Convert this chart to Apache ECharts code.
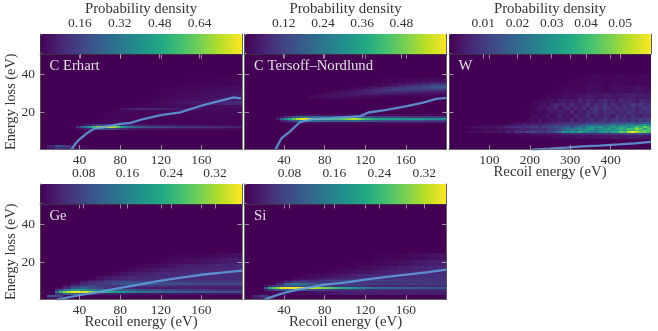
<!DOCTYPE html>
<html><head><meta charset="utf-8">
<style>html,body{margin:0;padding:0;background:#fff}#c{width:658px;height:331px}</style>
<script src="https://cdn.jsdelivr.net/npm/echarts@6/dist/echarts.min.js"></script>
</head><body><div id="c"></div>
<script>
// ---------- data ----------
const recoilEdges = [0,8,16,24,32,40,48,56,64,72,80,88,96,104,112,120,128,136,144,152,160,168,176,184,192,200];
const recoilEdgesFine = [0,4,8,12,16,20,24,28,32,36,40,44,48,52,56,60,64,68,72,76,80,84,88,92,96,100,104,108,112,116,120,124,128,132,136,140,144,148,152,156,160,164,168,172,176,180,184,188,192,196,200];
const recoilEdgesW = [40,60,80,100,120,140,160,180,200,220,240,260,280,300,320,340,360,380,400,420,440,460,480,500];
const recoilEdgesWFine = [40,50,60,70,80,90,100,110,120,130,140,150,160,170,180,190,200,210,220,230,240,250,260,270,280,290,300,310,320,330,340,350,360,370,380,390,400,410,420,430,440,450,460,470,480,490,500];

// each row: [loss low, loss high, density per recoil column]
const erhartRows = [
 [1,2,[0,.05,.12,.10,.02,.02,.01,0,0,0,0,0,0,0,0,0,0,0,0,0,0,0,0,0,0]],
 [2,3,[0,.08,.20,.13,.03,.02,.01,0,0,0,0,0,0,0,0,0,0,0,0,0,0,0,0,0,0]],
 [11,12,[0,0,0,0,0,0,0,0,.005,.03,
         .05,.08,.10,.14,.18,.2,.2,.2,.16,.13,
         .1,.08,.07,.06,.05,.05,.05,.04,.04,.04,
         .04,.04,.03,.03,.03,.03,.03,.03,.03,.03,
         .03,.03,.03,.03,.03,.03,.02,.02,.02,.02]],
 [12,13,[0,0,0,0,0,0,0,0,.02,.12,
         .22,.32,.42,.55,.68,.76,.80,.78,.70,.60,
         .48,.38,.30,.27,.24,.22,.19,.18,.17,.16,
         .16,.15,.14,.14,.13,.13,.13,.12,.12,.11,
         .11,.11,.10,.10,.09,.09,.08,.08,.07,.07]],
 [13,14,[0,0,0,0,0,0,0,0,0,.01,
         .03,.06,.08,.11,.15,.18,.18,.17,.14,.12,
         .10,.08,.07,.06,.06,.05,.05,.04,.04,.04,
         .04,.03,.03,.03,.03,.03,.03,.03,.03,.03,
         .03,.03,.02,.02,.02,.02,.02,.02,.02,.02]],
 [14,16,[0,0,0,0,0,.005,.01,.015,.02,.02,.015,.01,.01,.01,.01,.01,.01,.01,.01,.01,.01,.01,.01,.01,.01]],
 [16,18,[0,0,0,0,0,0,0,.005,.01,.015,.015,.01,.01,.01,.01,.01,.01,.01,.01,.01,.01,.01,.01,.01,.01]],
 [18,20,[0,0,0,0,0,0,0,0,.005,.01,.01,.01,.01,.015,.015,.015,.015,.015,.015,.015,.015,.015,.015,.015,.015]],
 [20,21,[0,0,0,0,0,0,0,0,0,.005,.015,.02,.02,.02,.02,.02,.02,.02,.02,.02,.02,.02,.02,.02,.02]],
 [21,22,[0,0,0,0,0,0,0,0,0,.01,.04,.07,.08,.08,.08,.07,.06,.06,.05,.04,.03,.025,.02,.02,.02]],
 [22,24,[0,0,0,0,0,0,0,0,0,0,.005,.01,.015,.015,.02,.02,.02,.025,.025,.03,.03,.03,.03,.03,.03]],
 [24,26,[0,0,0,0,0,0,0,0,0,0,0,0,.005,.01,.015,.02,.03,.04,.05,.06,.06,.07,.08,.09,.10]],
 [26,28,[0,0,0,0,0,0,0,0,0,0,0,0,0,.005,.01,.015,.02,.025,.03,.03,.035,.04,.04,.05,.06]],
 [28,31,[0,0,0,0,0,0,0,0,0,0,0,0,0,0,.005,.01,.015,.02,.02,.025,.03,.03,.035,.04,.05]],
 [31,34,[0,0,0,0,0,0,0,0,0,0,0,0,0,0,0,.005,.01,.01,.015,.015,.02,.02,.025,.03,.03]],
 [34,38,[0,0,0,0,0,0,0,0,0,0,0,0,0,0,0,0,0,0,.005,.005,.005,.01,.01,.01,.015]]
];
const tersoffRows = [
 [14,15,[0,0,0,0,0,.02,.03,.03,.03,.03,.02,.02,.02,.02,.02,.02,.02,.02,.02,.02,.02,.02,.02,.02,.02]],
 [15,16,[0,0,0,0,0,0,0,0,.01,.05,
         .08,.12,.16,.2,.23,.24,.23,.22,.21,.2,
         .19,.18,.18,.18,.18,.19,.2,.21,.2,.18,
         .16,.15,.14,.14,.14,.13,.13,.13,.13,.13,
         .13,.13,.13,.13,.13,.12,.12,.12,.12,.12]],
 [16,17,[0,0,0,0,0,0,0,0,.06,.20,
         .30,.38,.46,.54,.60,.61,.60,.56,.52,.48,
         .45,.44,.44,.45,.47,.50,.53,.55,.52,.46,
         .42,.40,.38,.36,.35,.35,.34,.34,.33,.33,
         .33,.32,.34,.33,.31,.31,.30,.30,.30,.29]],
 [17,18,[0,0,0,0,0,0,0,0,.01,.04,
         .07,.1,.14,.18,.21,.23,.22,.21,.2,.19,
         .18,.18,.19,.2,.2,.21,.21,.2,.18,.16,
         .14,.13,.12,.12,.12,.11,.11,.11,.11,.11,
         .1,.1,.1,.1,.1,.1,.1,.1,.1,.1]],
 [18,19,[0,0,0,0,0,.01,.02,.03,.03,.03,.03,.03,.03,.03,.02,.02,.02,.02,.02,.02,.02,.02,.02,.02,.02]],
 [27,28,[0,0,0,0,0,0,0,0,.01,.015,.02,.02,.015,.01,.01,.005,.005,0,0,0,0,0,0,0,0]],
 [28,29,[0,0,0,0,0,0,0,0,.015,.025,.03,.03,.03,.03,.025,.02,.02,.015,.01,.01,.01,.01,.01,.005,.005]],
 [29,30,[0,0,0,0,0,0,0,0,0,.01,.02,.03,.04,.04,.05,.05,.045,.04,.04,.03,.03,.03,.025,.02,.02]],
 [30,31,[0,0,0,0,0,0,0,0,0,0,.005,.02,.03,.04,.05,.06,.07,.07,.07,.07,.06,.06,.05,.05,.05]],
 [31,32,[0,0,0,0,0,0,0,0,0,0,0,0,.01,.02,.04,.05,.07,.09,.10,.10,.10,.10,.10,.09,.09]],
 [32,33,[0,0,0,0,0,0,0,0,0,0,0,0,0,.01,.015,.03,.05,.07,.09,.10,.11,.12,.13,.14,.15]],
 [33,34,[0,0,0,0,0,0,0,0,0,0,0,0,0,0,.01,.015,.02,.03,.05,.07,.09,.11,.14,.17,.18]],
 [34,35,[0,0,0,0,0,0,0,0,0,0,0,0,0,0,0,.005,.01,.02,.03,.05,.06,.07,.09,.11,.12]],
 [35,36,[0,0,0,0,0,0,0,0,0,0,0,0,0,0,0,0,.005,.01,.015,.02,.03,.04,.05,.06,.06]],
 [36,38,[0,0,0,0,0,0,0,0,0,0,0,0,0,0,0,0,0,.005,.005,.01,.01,.015,.02,.02,.025]]
];
const tungstenRows = [
 [6,8,[0,0,0,0,0,0,0,.0005,.001,.001,.001,.002,.002,.002,.003,.002,.003,.003,.004,.003,.004,.004,.003]],
 [8,9,[0,0,0,0,0,.001,.002,.002,.003,.003,.004,.004,.006,.007,.006,.008,.008,.009,.010,.011,.012,.012,.011]],
 [9,10,[.001,.002,.003,.002,.002,.003,.003,.004,.004,.003,
        .006,.004,.009,.010,.008,.012,.011,.012,.010,.009,
        .012,.013,.016,.020,.030,.026,.034,.028,.036,.030,
        .028,.024,.022,.030,.032,.028,.036,.034,.044,.042,
        .052,.058,.052,.046,.044,.040]],
 [10,11,[0,0,0,.001,0,.001,.001,.001,.002,.002,
         .003,.003,.004,.005,.004,.006,.007,.006,.006,.007,
         .009,.008,.012,.016,.016,.020,.024,.020,.026,.030,
         .030,.026,.024,.028,.030,.026,.030,.032,.036,.032,
         .038,.036,.042,.038,.046,.042]],
 [11,12,[0,.001,.001,.001,.002,.002,.002,.002,.003,.002,
         .004,.004,.005,.006,.006,.005,.007,.006,.008,.006,
         .010,.011,.012,.014,.018,.022,.020,.024,.028,.024,
         .030,.032,.026,.028,.030,.034,.028,.032,.038,.034,
         .042,.040,.048,.044,.034,.042]],
 [12,13,[.001,.002,.003,.002,.003,.003,.002,.003,.004,.005,
         .007,.006,.008,.009,.007,.010,.010,.011,.008,.010,
         .012,.013,.015,.013,.016,.018,.016,.018,.022,.020,
         .028,.030,.028,.032,.024,.028,.032,.030,.036,.032,
         .028,.034,.042,.038,.046,.040]],
 [13,14,[0,0,0,0,.001,.001,.001,.002,.002,.002,
         .002,.004,.003,.004,.006,.004,.006,.006,.005,.007,
         .007,.008,.009,.010,.009,.012,.010,.011,.014,.016,
         .018,.020,.016,.018,.020,.022,.024,.020,.022,.026,
         .024,.028,.024,.030,.032,.026]],
 [14,15,[0,0,0,0,0,.001,.002,.003,.003,.004,.005,.006,.007,.009,.008,.010,.012,.011,.014,.013,.016,.014,.018]],
 [15,17,[0,0,0,0,0,0,0,0,0,0,0,0,0,0,0,
         .001,.002,.001,.003,.002,.002,.004,.003,.005,.004,
         .003,.006,.004,.007,.005,.006,.008,.005,.007,.009,
         .006,.008,.010,.007,.009,.007,.010,.008,.011,.009,.012]],
 [17,19,[0,0,0,0,0,0,0,0,0,0,0,0,0,0,0,
         0,.001,.002,.001,.002,.004,.002,.003,.005,.003,
         .004,.003,.006,.004,.005,.007,.004,.006,.005,.007,
         .006,.004,.008,.006,.007,.005,.008,.006,.005,.007,.006]],
 [19,21,[0,0,0,0,0,0,0,0,0,0,0,0,0,0,0,
         0,.001,.001,.002,.001,.003,.004,.003,.005,.004,
         .003,.006,.003,.005,.004,.007,.006,.009,.005,.007,
         .006,.008,.005,.007,.006,.009,.007,.006,.008,.006,.009]],
 [21,23,[0,0,0,0,0,0,0,0,0,0,0,0,0,0,0,
         .001,.001,.002,.003,.002,.005,.004,.006,.003,.005,
         .007,.004,.006,.005,.007,.004,.008,.009,.006,.010,
         .007,.005,.008,.006,.009,.006,.008,.005,.007,.010,.008]],
 [23,25,[0,0,0,0,0,0,0,0,0,0,0,0,0,0,0,
         0,.001,.001,.002,.003,.002,.004,.007,.005,.006,
         .004,.007,.005,.004,.006,.008,.005,.007,.006,.009,
         .005,.007,.006,.005,.008,.006,.010,.007,.009,.006,.008]],
 [25,27,[0,0,0,0,0,0,0,0,0,0,0,0,0,0,0,
         0,0,.001,.001,.002,.002,.003,.002,.004,.005,
         .003,.004,.003,.006,.004,.007,.005,.004,.006,.008,
         .005,.006,.004,.007,.005,.006,.005,.004,.007,.006,.005]],
 [27,30,[0,0,0,0,0,0,0,0,0,0,.001,.001,.002,.002,.003,.004,.003,.004,.003,.004,.005,.004,.004]],
 [30,34,[0,0,0,0,0,0,0,0,0,0,0,.0005,.001,.001,.001,.002,.002,.001,.002,.002,.002,.003,.002]],
 [34,40,[0,0,0,0,0,0,0,0,0,0,0,0,0,.0005,.0005,.001,.001,.0005,.001,.001,.0005,.001,.001]]
];
const germaniumRows = [
 [1,2,[0,.02,.02,0,0,0,0,0,0,0,0,0,0,0,0,0,0,0,0,0,0,0,0,0,0]],
 [2,3,[0,.10,.08,.005,0,0,0,0,0,0,0,0,0,0,0,0,0,0,0,0,0,0,0,0,0]],
 [3,4,[0,0,.05,.12,.12,.06,.06,.04,.03,.03,.03,.02,.02,.02,.02,.02,.02,.02,.02,.02,.02,.02,.02,.02,.02]],
 [4,5,[0,0,0,0,.12,.24,.30,.34,.36,.36,
       .35,.35,.33,.30,.28,.25,.23,.22,.21,.20,
       .18,.17,.16,.16,.15,.15,.14,.14,.13,.13,
       .12,.12,.12,.12,.11,.11,.11,.11,.10,.10,
       .10,.10,.09,.09,.09,.09,.09,.09,.09,.09]],
 [5,6,[0,0,0,0,.05,.1,.13,.16,.2,.2,
       .18,.18,.16,.15,.14,.14,.13,.13,.12,.12,
       .11,.11,.10,.10,.09,.09,.08,.08,.08,.08,
       .07,.07,.07,.07,.06,.06,.06,.06,.06,.06,
       .06,.06,.05,.05,.05,.05,.05,.05,.05,.05]],
 [6,7,[0,0,.01,.04,.10,.11,.09,.07,.06,.05,.04,.04,.03,.03,.03,.03,.03,.03,.03,.03,.03,.03,.03,.03,.03]],
 [7,8,[0,0,0,.02,.05,.07,.07,.06,.05,.05,.05,.06,.06,.06,.05,.05,.05,.04,.04,.04,.04,.04,.04,.04,.04]],
 [8,9,[0,0,0,.005,.02,.04,.05,.06,.07,.09,.10,.10,.10,.10,.09,.09,.09,.09,.09,.08,.08,.08,.08,.08,.08]],
 [9,10,[0,0,0,0,.01,.03,.04,.05,.06,.07,.08,.08,.08,.08,.07,.07,.07,.07,.06,.06,.06,.06,.06,.06,.06]],
 [10,11,[0,0,0,0,0,.01,.02,.03,.04,.05,.05,.05,.05,.05,.05,.05,.05,.05,.05,.05,.05,.05,.05,.05,.05]],
 [11,13,[0,0,0,0,0,0,.005,.015,.025,.03,.035,.04,.04,.045,.045,.045,.045,.045,.045,.045,.045,.045,.045,.045,.045]],
 [13,15,[0,0,0,0,0,0,0,.002,.005,.01,.02,.025,.03,.035,.04,.04,.04,.04,.045,.045,.045,.045,.045,.045,.045]],
 [15,17,[0,0,0,0,0,0,0,0,0,.002,.005,.01,.015,.02,.025,.03,.03,.035,.035,.04,.04,.04,.04,.04,.04]],
 [17,19,[0,0,0,0,0,0,0,0,0,0,0,.002,.005,.008,.012,.015,.02,.025,.03,.03,.03,.035,.035,.035,.04]],
 [19,22,[0,0,0,0,0,0,0,0,0,0,0,0,0,.002,.003,.005,.008,.01,.012,.015,.018,.02,.024,.028,.03]],
 [22,25,[0,0,0,0,0,0,0,0,0,0,0,0,0,0,0,0,.002,.003,.004,.005,.006,.008,.01,.014,.018]]
];
const siliconRows = [
 [1,2,[0,.02,.03,.01,0,0,0,0,0,0,0,0,0,0,0,0,0,0,0,0,0,0,0,0,0]],
 [2,3,[0,.04,.07,.01,0,0,0,0,0,0,0,0,0,0,0,0,0,0,0,0,0,0,0,0,0]],
 [3,5,[0,0,0,.005,.01,.01,.01,.01,.015,.02,.02,.025,.03,.03,.03,.03,.03,.03,.03,.03,.03,.03,.03,.03,.03]],
 [5,6,[0,0,0,0,0,.03,.06,.07,.09,.1,
       .1,.1,.1,.09,.09,.09,.08,.08,.07,.07,
       .06,.06,.05,.05,.05,.05,.05,.05,.05,.05,
       .04,.04,.04,.04,.04,.04,.04,.04,.04,.04,
       .04,.04,.04,.04,.04,.04,.04,.04,.04,.04]],
 [6,7,[0,0,0,0,0,.10,.22,.26,.30,.34,
       .35,.36,.35,.35,.35,.35,.34,.33,.31,.29,
       .28,.26,.25,.23,.22,.21,.20,.18,.17,.16,
       .15,.14,.13,.125,.12,.12,.12,.12,.11,.11,
       .11,.11,.10,.10,.10,.10,.10,.10,.09,.09]],
 [7,8,[0,0,0,0,0,.02,.04,.05,.07,.08,
       .09,.1,.1,.1,.09,.09,.08,.08,.07,.07,
       .06,.06,.05,.05,.05,.05,.05,.05,.05,.05,
       .04,.04,.04,.04,.04,.04,.04,.04,.04,.04,
       .04,.04,.04,.04,.04,.04,.04,.04,.04,.04]],
 [8,9,[0,0,0,.005,.04,.12,.15,.13,.10,.08,.07,.06,.06,.06,.06,.06,.06,.06,.06,.06,.06,.06,.06,.06,.06]],
 [9,10,[0,0,0,0,.01,.04,.06,.06,.05,.05,.05,.05,.05,.05,.05,.05,.05,.05,.05,.05,.05,.05,.05,.05,.05]],
 [10,11,[0,0,0,0,0,.01,.03,.04,.04,.05,.06,.07,.08,.08,.08,.08,.08,.08,.07,.07,.06,.06,.06,.05,.05]],
 [11,12,[0,0,0,0,0,0,.01,.015,.02,.03,.035,.04,.04,.05,.05,.05,.05,.05,.05,.05,.05,.05,.05,.05,.05]],
 [12,14,[0,0,0,0,0,0,0,.005,.01,.012,.015,.02,.025,.03,.035,.04,.04,.04,.04,.04,.045,.045,.045,.045,.045]],
 [14,16,[0,0,0,0,0,0,0,0,0,.002,.005,.008,.01,.015,.018,.02,.025,.03,.03,.035,.035,.04,.04,.04,.04]],
 [16,18,[0,0,0,0,0,0,0,0,0,0,0,.002,.003,.005,.008,.01,.015,.02,.025,.03,.03,.035,.035,.04,.04]],
 [18,21,[0,0,0,0,0,0,0,0,0,0,0,0,0,.002,.003,.004,.006,.008,.012,.015,.02,.024,.028,.03,.032]],
 [21,25,[0,0,0,0,0,0,0,0,0,0,0,0,0,0,0,0,.002,.003,.004,.006,.008,.01,.012,.016,.018]]
];

// mean energy-loss curves [recoil, loss]
const erhartMean = [[32,.5],[35,3],[39,5.5],[47,9],[55,11.6],[64,12.3],[72,13],[80,13.9],[90,14.5],[103,16.5],[120,18.5],[139,20],[159,23.3],[175,25.6],[192,27.8],[199,27.3]];
const tersoffMean = [[31.5,.5],[37.4,6.4],[45.6,9.9],[55.5,14.8],[67,16.4],[88,17],[108,17.7],[115,18],[123,19.9],[141,21.3],[161,23.3],[177,25.1],[190,27],[200,27.5]];
const tungstenMean = [[205,.5],[250,1],[290,1.5],[330,2.2],[372,2.6],[420,3.2],[460,3.8],[500,4.5]];
const germaniumMean = [[17.7,.5],[40,2.8],[60,4.6],[80,6.6],[100,8.5],[120,10.4],[140,12],[160,13.5],[180,14.6],[200,15.6]];
const siliconMean = [[21,.7],[40,4],[53.5,5.7],[80,8.3],[101.5,9.5],[119.5,11],[141,12.4],[160.7,13.6],[180,14.7],[200,16.2]];

const densityTicksErhart = [0.16,0.32,0.48,0.64];
const densityTicksTersoff = [0.12,0.24,0.36,0.48];
const densityTicksW = [0.01,0.02,0.03,0.04,0.05];
const densityTicksGeSi = [0.08,0.16,0.24,0.32];
const recoilTicks = [40,80,120,160];
const recoilTicksW = [100,200,300,400];
const lossTicks = [20,40];

// ---------- figure ----------
const viridis = ['#440154','#482475','#414487','#355f8d','#2a788e','#21918c','#22a884','#44bf70','#7ad151','#bddf26','#fde725'];
const FONT = '"Liberation Serif", serif', TXT = '#333';
const panels = [
 {name:'C Erhart',rows:erhartRows,edges:recoilEdges,fine:recoilEdgesFine,mean:erhartMean,left:40,top:54,xr:[1,200],xt:recoilTicks,max:.81,dt:densityTicksErhart,title:true,yl:true,xn:false},
 {name:'C Tersoff\u2013Nordlund',rows:tersoffRows,edges:recoilEdges,fine:recoilEdgesFine,mean:tersoffMean,left:244.5,top:54,xr:[1,200],xt:recoilTicks,max:.618,dt:densityTicksTersoff,title:true,yl:false,xn:false},
 {name:'W',rows:tungstenRows,edges:recoilEdgesW,fine:recoilEdgesWFine,mean:tungstenMean,left:449,top:54,xr:[0,500],xt:recoilTicksW,max:.059,dt:densityTicksW,title:true,yl:false,xn:true},
 {name:'Ge',rows:germaniumRows,edges:recoilEdges,fine:recoilEdgesFine,mean:germaniumMean,left:40,top:204,xr:[1,200],xt:recoilTicks,max:.3695,dt:densityTicksGeSi,title:false,yl:true,xn:true},
 {name:'Si',rows:siliconRows,edges:recoilEdges,fine:recoilEdgesFine,mean:siliconMean,left:244.5,top:204,xr:[1,200],xt:recoilTicks,max:.3595,dt:densityTicksGeSi,title:false,yl:false,xn:true}
];
const W = 202, H = 95.6, CB = 20;
const grids=[],xAxes=[],yAxes=[],series=[],vms=[],texts=[];
const tick = {show:true,inside:true,length:4.5,lineStyle:{color:'rgba(185,185,185,.75)',width:1}};
const frame = {show:true,lineStyle:{color:'#5a5a5a',width:.8}};
const lab = {fontFamily:FONT,fontSize:13.5,color:TXT};
const nameLab = {fontFamily:FONT,fontSize:14.8,color:TXT};

panels.forEach((p,i)=>{
  const g = grids.length;
  grids.push({left:p.left,top:p.top,width:W,height:H,show:true,backgroundColor:'#440154',borderWidth:0});
  const x0 = xAxes.length, y0 = yAxes.length;
  xAxes.push({gridIndex:g,type:'value',position:'bottom',min:p.xr[0],max:p.xr[1],splitLine:{show:false},z:5,axisLine:frame,
    axisTick:{...tick,customValues:p.xt},
    axisLabel:{...lab,margin:4,customValues:p.xt},
    name:p.xn?'Recoil energy (eV)':'',nameLocation:'middle',nameGap:15,nameMoveOverlap:false,nameTextStyle:{...nameLab}});
  xAxes.push({gridIndex:g,type:'value',position:'top',min:p.xr[0],max:p.xr[1],splitLine:{show:false},z:5,axisLine:{show:false},
    axisTick:{...tick,customValues:p.xt},axisLabel:{show:false}});
  yAxes.push({gridIndex:g,type:'value',position:'left',min:.5,max:50.5,splitLine:{show:false},z:5,axisLine:frame,
    axisTick:{...tick,customValues:lossTicks},
    axisLabel:{...lab,show:p.yl,margin:5,customValues:lossTicks},
    name:p.yl?'Energy loss (eV)':'',nameLocation:'middle',nameGap:22,nameMoveOverlap:false,nameRotate:90,nameTextStyle:{...lab,fontSize:14.3}});
  yAxes.push({gridIndex:g,type:'value',position:'right',min:.5,max:50.5,splitLine:{show:false},z:5,axisLine:frame,
    axisTick:{...tick,customValues:lossTicks},axisLabel:{show:false}});

  const cells=[];
  p.rows.forEach(r=>{
    const e = r[2].length===p.edges.length-1 ? p.edges : p.fine;
    r[2].forEach((v,c)=>{ if(v>0) cells.push([e[c],e[c+1],r[0],r[1],v]); });
  });
  const sIdx = series.length;
  series.push({type:'custom',xAxisIndex:x0,yAxisIndex:y0,data:cells,clip:true,silent:true,animation:false,
    encode:{x:[0,1],y:[2,3]},z:2,progressive:0,
    renderItem:(params,api)=>{
      const a=api.coord([api.value(0),api.value(3)]), b=api.coord([api.value(1),api.value(2)]);
      const x=Math.round(a[0]),y=Math.round(a[1]);
      return {type:'rect',shape:{x,y,width:Math.round(b[0])-x,height:Math.round(b[1])-y},style:{fill:api.visual('color')}};
    }});
  series.push({type:'line',xAxisIndex:x0,yAxisIndex:y0,data:p.mean,showSymbol:false,silent:true,animation:false,z:3,
    lineStyle:{color:'#629fdc',width:2.3,opacity:.85}});
  vms.push({type:'continuous',seriesIndex:sIdx,dimension:4,min:0,max:p.max,orient:'horizontal',calculable:false,
    show:true,left:p.left,top:p.top-CB,itemWidth:CB,itemHeight:W,padding:0,text:null,showLabel:false,
    inRange:{color:viridis},z:1,hoverLink:false,realtime:false});

  const cg = grids.length;
  grids.push({left:p.left,top:p.top-CB,width:W,height:CB,show:false,z:6});
  xAxes.push({gridIndex:cg,type:'value',position:'top',min:0,max:p.max,splitLine:{show:false},z:6,
    axisLine:{show:true,lineStyle:{color:'#3a3a3a',width:.8}},
    axisTick:{...tick,customValues:p.dt},axisLabel:{...lab,margin:4,customValues:p.dt,
      formatter:v=>v.toFixed(2)},
    name:p.title?'Probability density':'',nameLocation:'middle',nameGap:17,nameMoveOverlap:false,nameTextStyle:{...nameLab}});
  yAxes.push({gridIndex:cg,type:'value',min:0,max:1,show:true,position:'left',z:6,splitLine:{show:false},
    axisLine:{show:true,lineStyle:{color:'#3a3a3a',width:.8}},axisTick:{show:false},axisLabel:{show:false}});
  yAxes.push({gridIndex:cg,type:'value',min:0,max:1,show:true,position:'right',z:6,splitLine:{show:false},
    axisLine:{show:true,lineStyle:{color:'#3a3a3a',width:.8}},axisTick:{show:false},axisLabel:{show:false}});

  texts.push({type:'text',left:p.left+9.5,top:p.top+4.5,z:20,silent:true,
    style:{text:p.name,fill:'#e2dfe6',font:'14.7px '+FONT}});
});

const chart = echarts.init(document.getElementById('c'),null,{renderer:'canvas'});
chart.setOption({animation:false,backgroundColor:'#fff',grid:grids,xAxis:xAxes,yAxis:yAxes,series,visualMap:vms,graphic:texts,tooltip:{show:false}});
</script></body></html>
